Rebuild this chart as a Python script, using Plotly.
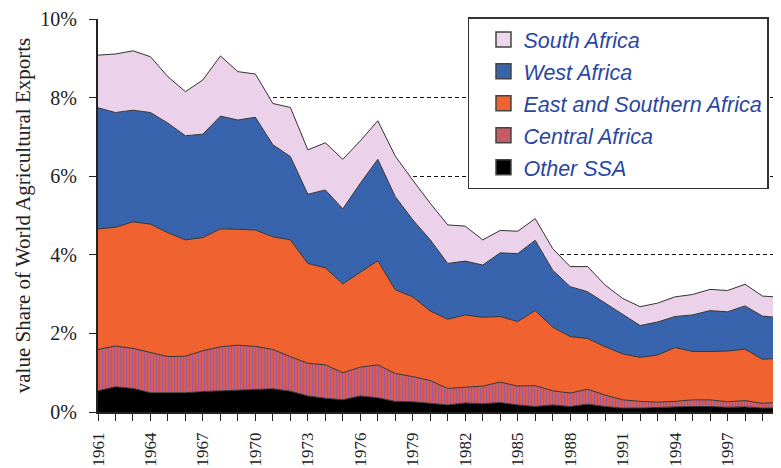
import plotly.graph_objects as go

years = list(range(1961, 2001))

other_ssa = [0.54, 0.64, 0.60, 0.49, 0.49, 0.49, 0.52, 0.54, 0.56, 0.57,
             0.59, 0.53, 0.41, 0.35, 0.31, 0.41, 0.36, 0.27, 0.26, 0.22,
             0.18, 0.23, 0.21, 0.24, 0.18, 0.14, 0.18, 0.14, 0.20, 0.14,
             0.10, 0.10, 0.12, 0.13, 0.14, 0.14, 0.12, 0.13, 0.10, 0.10]

central_africa = [1.05, 1.04, 1.02, 1.03, 0.92, 0.93, 1.04, 1.12, 1.14, 1.10,
                  1.00, 0.88, 0.83, 0.85, 0.69, 0.73, 0.84, 0.71, 0.64, 0.58,
                  0.42, 0.40, 0.45, 0.52, 0.48, 0.53, 0.36, 0.34, 0.38, 0.29,
                  0.21, 0.17, 0.13, 0.14, 0.17, 0.17, 0.14, 0.16, 0.12, 0.15]

east_southern_africa = [3.07, 3.02, 3.22, 3.26, 3.15, 2.96, 2.88, 3.00, 2.95, 2.96,
                        2.87, 2.97, 2.54, 2.47, 2.26, 2.41, 2.65, 2.13, 2.03, 1.77,
                        1.76, 1.84, 1.75, 1.67, 1.64, 1.91, 1.62, 1.44, 1.29, 1.23,
                        1.17, 1.12, 1.20, 1.37, 1.23, 1.23, 1.29, 1.31, 1.12, 1.12]

west_africa = [3.08, 2.92, 2.84, 2.84, 2.79, 2.65, 2.63, 2.87, 2.78, 2.87,
               2.34, 2.12, 1.76, 1.98, 1.91, 2.27, 2.58, 2.37, 1.96, 1.81,
               1.42, 1.37, 1.33, 1.62, 1.73, 1.79, 1.45, 1.27, 1.19, 1.11,
               1.01, 0.81, 0.84, 0.79, 0.93, 1.04, 1.00, 1.10, 1.10, 1.03]

south_africa = [1.34, 1.49, 1.51, 1.42, 1.18, 1.12, 1.38, 1.53, 1.23, 1.10,
                1.05, 1.25, 1.13, 1.20, 1.26, 1.08, 0.98, 1.03, 1.01, 0.93,
                0.98, 0.89, 0.64, 0.57, 0.57, 0.55, 0.55, 0.51, 0.64, 0.46,
                0.40, 0.48, 0.48, 0.50, 0.52, 0.54, 0.54, 0.55, 0.51, 0.52]

x_tick_vals = years
x_tick_text = [str(y) if (y - 1961) % 3 == 0 else "" for y in years]
y_tick_vals = [0, 2, 4, 6, 8, 10]
y_tick_text = ["0%", "2%", "4%", "6%", "8%", "10%"]

series = [
    ("Other SSA", other_ssa, "#000000", None),
    ("Central Africa", central_africa, "#df5d4c",
     dict(shape="|", fgcolor="#9a5a9e", size=3, solidity=0.4)),
    ("East and Southern Africa", east_southern_africa, "#f06331", None),
    ("West Africa", west_africa, "#3864ae", None),
    ("South Africa", south_africa, "#fcf5fb",
     dict(shape=".", fgcolor="#d9a4d5", size=2, solidity=0.5)),
]

legend_colors = {
    "South Africa": "#ecd8ea",
    "West Africa": "#3864ae",
    "East and Southern Africa": "#f06331",
    "Central Africa": "#c85a66",
    "Other SSA": "#000000",
}

fig = go.Figure()
for name, vals, color, pattern in series:
    kw = dict(
        x=years, y=vals, name=name, mode="lines", stackgroup="one",
        line=dict(color="#333333", width=1), fillcolor=color,
        showlegend=False, hoverinfo="skip",
    )
    if pattern is not None:
        p = dict(pattern)
        p["bgcolor"] = color
        kw["fillpattern"] = p
    fig.add_trace(go.Scatter(**kw))

for name in ["South Africa", "West Africa", "East and Southern Africa",
             "Central Africa", "Other SSA"]:
    fig.add_trace(go.Scatter(
        x=[None], y=[None], mode="markers", name=name, legendgroup=name,
        marker=dict(symbol="square", size=15, color=legend_colors[name],
                    line=dict(color="#444444", width=1.5)),
    ))

axis_font = dict(family="Liberation Serif", size=20, color="#222222")

# the page body adds an 8px offset, so margins are shifted by 8px
fig.update_layout(
    width=781, height=468,
    template="none",
    paper_bgcolor="white", plot_bgcolor="white",
    margin=dict(l=90, r=9, t=11, b=64, autoexpand=False),
    showlegend=True,
    legend=dict(
        x=0.5425, y=1.004, xanchor="left", yanchor="top",
        bgcolor="white", bordercolor="#333333", borderwidth=1.5,
        font=dict(family="Liberation Sans", size=21.5, color="#2a46a0", style="italic"),
        traceorder="grouped", tracegroupgap=1, indentation=14,
    ),
    xaxis=dict(
        range=[1961, 2000], tickmode="array", tickvals=x_tick_vals, ticktext=x_tick_text,
        tickangle=-90, ticks="outside", ticklen=7, tickwidth=1.2, tickcolor="#222222",
        showline=True, linecolor="#222222", linewidth=1.5, showgrid=False, zeroline=False,
        tickfont=dict(family="Liberation Serif", size=17, color="#222222"),
        automargin=False, ticklabelstandoff=5, ticklabeloverflow="allow",
    ),
    yaxis=dict(
        range=[0, 10], tickmode="array", tickvals=y_tick_vals, ticktext=y_tick_text,
        ticks="outside", ticklen=7, tickwidth=1.2, tickcolor="#222222",
        showline=True, linecolor="#222222", linewidth=2, zeroline=False,
        showgrid=True, gridcolor="#111111", gridwidth=1, griddash="4px,3px",
        tickfont=axis_font, automargin=False, ticklabelstandoff=8,
        title=dict(text="value Share of World Agricultural Exports",
                   font=dict(family="Liberation Serif", size=21, color="#222222"),
                   standoff=4),
    ),
)

fig.write_html("out.html")
